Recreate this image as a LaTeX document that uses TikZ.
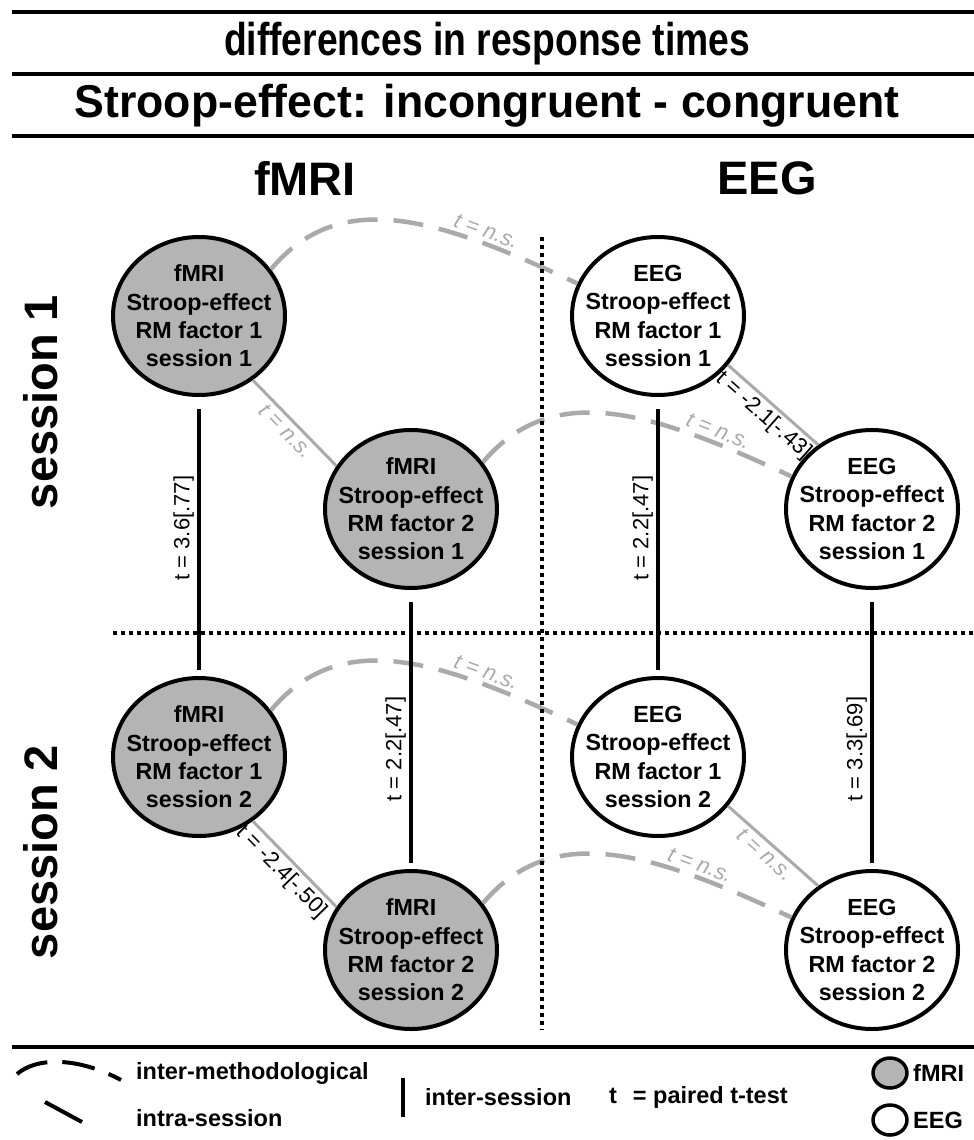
\documentclass[tikz,border=0pt]{standalone}
\usepackage{fontspec}
\setmainfont{Liberation Sans}
\usetikzlibrary{shapes.geometric}
\definecolor{fmrigray}{RGB}{180,180,180}
\definecolor{linkgray}{RGB}{170,170,170}

\begin{document}
\begin{tikzpicture}[x=1pt,y=-1pt,
  stat/.style={ellipse,draw,line width=4pt,minimum width=172pt,minimum height=158pt,inner xsep=-15pt,inner ysep=-4pt,align=center,font=\fontsize{23.3}{28.3}\selectfont\bfseries},
  fm/.style={stat,fill=fmrigray},eg/.style={stat,fill=white},
  vline/.style={line width=4pt},dotline/.style={line width=4pt,dash pattern=on 4pt off 4pt},
  inter/.style={line width=4pt,shorten <=6pt,shorten >=12pt},
  intra/.style={draw=linkgray,line width=3pt},
  meth/.style={draw=linkgray,line width=4.5pt,dash pattern=on 30pt off 16pt},
  tval/.style={font=\fontsize{22}{24}\selectfont,inner sep=3pt},
  ns/.style={tval,text=linkgray,font=\fontsize{22}{24}\selectfont\itshape},
  colhead/.style={font=\fontsize{47}{50}\selectfont\bfseries},
  maintitle/.style={font=\fontsize{46}{50}\selectfont\bfseries},
  keytext/.style={anchor=west,inner sep=0pt,font=\fontsize{23.5}{26}\selectfont\bfseries},
  keydisc/.style={ellipse,draw,line width=3.5pt,minimum width=34pt,minimum height=30pt,inner sep=0pt}]
\useasboundingbox (0,0) rectangle (974,1140);
% header
\draw[vline] (12,12) -- (974,12);
\draw[vline] (12,74) -- (974,74);
\draw[vline] (12,136) -- (974,136);
\node[maintitle,xscale=.81] (t1) at (487,44) {differences in response times};
\node[maintitle,xscale=.97] (t2) at (487,106) {Stroop-effect: incongruent - congruent};
\node[colhead] (hf) at (305,178) {fMRI};
\node[colhead] (he) at (767,178) {EEG};
\node[colhead,rotate=90] (s1) at (41,402) {session 1};
\node[colhead,rotate=90] (s2) at (41,852) {session 2};
% circles
\node[fm] (f11) at (199,316) {fMRI\\Stroop-effect\\RM factor 1\\session 1};
\node[fm] (f21) at (411,509) {fMRI\\Stroop-effect\\RM factor 2\\session 1};
\node[fm] (f12) at (199,757) {fMRI\\Stroop-effect\\RM factor 1\\session 2};
\node[fm] (f22) at (411,950) {fMRI\\Stroop-effect\\RM factor 2\\session 2};
\node[eg] (e11) at (658,316) {EEG\\Stroop-effect\\RM factor 1\\session 1};
\node[eg] (e21) at (872,509) {EEG\\Stroop-effect\\RM factor 2\\session 1};
\node[eg] (e12) at (658,757) {EEG\\Stroop-effect\\RM factor 1\\session 2};
\node[eg] (e22) at (872,950) {EEG\\Stroop-effect\\RM factor 2\\session 2};
% inter-methodological
\draw[meth] (f11.33) .. controls +(50:110pt) and +(155:150pt) .. node[ns,sloped,above,pos=.75]{t = n.s.} (e11.158);
\draw[meth] (f21.33) .. controls +(50:110pt) and +(155:150pt) .. node[ns,sloped,above,pos=.8]{t = n.s.} (e21.158);
\draw[meth] (f12.33) .. controls +(50:110pt) and +(155:150pt) .. node[ns,sloped,above,pos=.75]{t = n.s.} (e12.158);
\draw[meth] (f22.33) .. controls +(50:110pt) and +(155:150pt) .. node[ns,sloped,above,pos=.75]{t = n.s.} (e22.158);
% grid
\draw[dotline] (542,237) -- (542,1030);
\draw[dotline] (113,633) -- (974,633);
% intra-session
\draw[intra] (f11.-50) -- node[ns,sloped,below]{t = n.s.} (f21.150);
\draw[intra] (e11.-35) -- node[tval,sloped,below]{t = -2.1[-.43]} (e21.130);
\draw[intra] (f12.-50) -- node[tval,sloped,below,pos=.47]{t = -2.4[-.50]} (f22.150);
\draw[intra] (e12.-35) -- node[ns,sloped,below]{t = n.s.} (e22.130);
% inter-session
\draw[inter] (f12) -- node[tval,rotate=90,above,pos=.53]{t = 3.6[.77]} (f11);
\draw[inter] (f22) -- node[tval,rotate=90,above,pos=.43]{t = 2.2[.47]} (f21);
\draw[inter] (e12) -- node[tval,rotate=90,above,pos=.53]{t = 2.2[.47]} (e11);
\draw[inter] (e22) -- node[tval,rotate=90,above,pos=.43]{t = 3.3[.69]} (e21);
% legend
\draw[vline] (12,1047) -- (974,1047);
\draw[line width=4pt,dash pattern=on 33pt off 15pt] (17,1074) .. controls (38,1056) and (80,1058) .. (121,1080);
\draw[vline] (45,1102) -- (82,1122);
\draw[vline] (403,1078) -- (403,1117);
\node[keytext] (km) at (136,1073) {inter-methodological};
\node[keytext] (ki) at (136,1118) {intra-session};
\node[keytext] (ks) at (425,1097) {inter-session};
\node[keytext] (kt) at (609,1097) {t\hspace{0.4em} = paired t-test};
\node[keydisc,fill=fmrigray] (kf) at (890,1073) {};
\node[keydisc] (ke) at (890,1120) {};
\node[keytext] (kfl) at (913,1073) {fMRI};
\node[keytext] (kel) at (913,1120) {EEG};
\end{tikzpicture}
\end{document}
